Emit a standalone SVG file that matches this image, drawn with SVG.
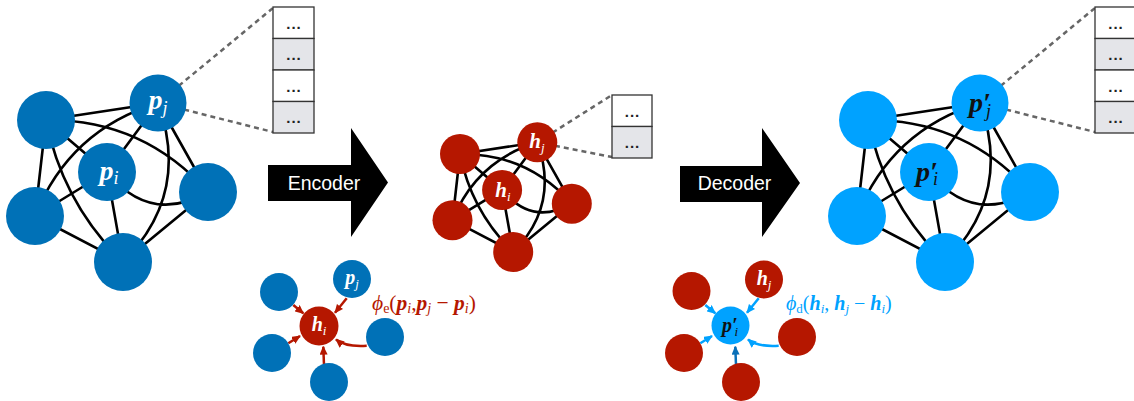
<svg xmlns="http://www.w3.org/2000/svg" width="1134" height="401" viewBox="0 0 1134 401">
<style>
.n1{fill:#0071B7}
.n2{fill:#B51700}
.n3{fill:#00A2FF}
.e{fill:none;stroke:#000;stroke-width:2.6}
.d{fill:none;stroke:#666;stroke-width:2.5;stroke-dasharray:5 4}
.box{stroke:#333;stroke-width:1.3}
.w{fill:#fff}
.g{fill:#E4E5E9}
.dots{font-family:"Liberation Sans",Arial,sans-serif;font-size:15px;font-weight:bold;letter-spacing:1px;fill:#222;text-anchor:middle}
.lbl{font-family:"Liberation Serif","DejaVu Serif",serif;font-weight:bold;font-style:italic;text-anchor:middle}
.sub{font-weight:normal;font-style:italic}
.atx{font-family:"Liberation Sans",Arial,sans-serif;font-size:19.5px;fill:#fff;text-anchor:middle}
.fx{font-family:"Liberation Serif","DejaVu Serif",serif}
.ar{fill:none;stroke:#B51700;stroke-width:2.5}
.ab{fill:none;stroke:#00A2FF;stroke-width:2.5}
.ad{fill:none;stroke:#0A70B8;stroke-width:2.5}
</style>
<defs>
<marker id="mr" markerUnits="userSpaceOnUse" markerWidth="9" markerHeight="8" refX="8" refY="4" orient="auto"><path d="M0,0L9,4L0,8z" fill="#B51700"/></marker>
<marker id="mb" markerUnits="userSpaceOnUse" markerWidth="9" markerHeight="8" refX="8" refY="4" orient="auto"><path d="M0,0L9,4L0,8z" fill="#00A2FF"/></marker>
<marker id="md" markerUnits="userSpaceOnUse" markerWidth="9" markerHeight="8" refX="8" refY="4" orient="auto"><path d="M0,0L9,4L0,8z" fill="#0A70B8"/></marker>
</defs>

<g id="connectors">
  <g id="edges-left">
    <path class="e" d="M46,120L158,103M46,120L35,216M46,120L107,172M158,103L107,172M158,103L208,192M107,172L35,216M107,172L123,262M35,216L123,262M208,192L123,262"/>
    <path class="e" d="M46,120Q143,119 208,192M46,120Q62.5,203 123,262M158,103Q69.4,130 35,216M158,103Q191,194 123,262M107,172Q150,225 208,192"/>
    <path class="d" d="M158,103L273,8M158,103L273,132"/>
  </g>
  <g id="edges-mid">
    <path class="e" d="M460,154L537.3,142.3M460,154L452.5,220.2M460,154L502.1,189.9M537.3,142.3L502.1,189.9M537.3,142.3L571.8,203.7M502.1,189.9L452.5,220.2M502.1,189.9L513.2,252M452.5,220.2L513.2,252M571.8,203.7L513.2,252"/>
    <path class="e" d="M460,154Q527,153.3 571.8,203.7M460,154Q471.4,211.3 513.2,252M537.3,142.3Q476.2,160.9 452.5,220.2M537.3,142.3Q560.1,205.1 513.2,252M502.1,189.9Q531.8,226.5 571.8,203.7"/>
    <path class="d" d="M537.3,142.3L612,95M537.3,142.3L612,157"/>
  </g>
  <g id="edges-right" transform="translate(822,0)">
    <path class="e" d="M46,120L158,103M46,120L35,216M46,120L107,172M158,103L107,172M158,103L208,192M107,172L35,216M107,172L123,262M35,216L123,262M208,192L123,262"/>
    <path class="e" d="M46,120Q143,119 208,192M46,120Q62.5,203 123,262M158,103Q69.4,130 35,216M158,103Q191,194 123,262M107,172Q150,225 208,192"/>
    <path class="d" d="M158,103L273,8M158,103L273,132"/>
  </g>
  <g id="arrows-enc">
    <path class="ar" marker-end="url(#mr)" d="M293.3,305L303.3,313.3"/>
    <path class="ar" marker-end="url(#mr)" d="M346.7,298.3L335,312.7"/>
    <path class="ar" marker-end="url(#mr)" d="M288.3,343.3L300,336"/>
    <path class="ar" marker-end="url(#mr)" d="M324,365L323.3,346.7"/>
    <path class="ar" marker-end="url(#mr)" d="M366.7,345.7Q345,347 336,339.5"/>
  </g>
  <g id="arrows-dec">
    <path class="ab" marker-end="url(#mb)" d="M705.3,305L715.3,313.3"/>
    <path class="ab" marker-end="url(#mb)" d="M758.7,298.3L747,312.7"/>
    <path class="ab" marker-end="url(#mb)" d="M700.3,343.3L712,336"/>
    <path class="ad" marker-end="url(#md)" d="M736,365L735.3,346.7"/>
    <path class="ab" marker-end="url(#mb)" d="M778.7,345.7Q757,347 748,339.5"/>
  </g>
</g>

<!-- left graph nodes -->
<g id="L-tl"><circle class="n1" cx="46" cy="120" r="29"/></g>
<g id="L-pj"><circle class="n1" cx="158" cy="103" r="28.5"/><text class="lbl" x="158" y="109" font-size="28" fill="#fff">p<tspan class="sub" font-size="18" dy="5">j</tspan></text></g>
<g id="L-pi"><circle class="n1" cx="107" cy="172" r="29"/><text class="lbl" x="109" y="180" font-size="28" fill="#fff">p<tspan class="sub" font-size="18" dy="4">i</tspan></text></g>
<g id="L-r"><circle class="n1" cx="208" cy="192" r="29"/></g>
<g id="L-lb"><circle class="n1" cx="35" cy="216" r="29"/></g>
<g id="L-b"><circle class="n1" cx="123" cy="262" r="29"/></g>

<!-- left memory box -->
<g id="L-box">
  <rect class="box w" x="273" y="7" width="41" height="31.5"/>
  <rect class="box g" x="273" y="38.5" width="41" height="31.5"/>
  <rect class="box w" x="273" y="70" width="41" height="31.5"/>
  <rect class="box g" x="273" y="101.5" width="41" height="31.5"/>
  <text class="dots" x="294" y="28.5">...</text>
  <text class="dots" x="294" y="60">...</text>
  <text class="dots" x="294" y="91.5">...</text>
  <text class="dots" x="294" y="123">...</text>
</g>

<!-- encoder arrow -->
<g id="encoder">
  <polygon points="268,165 351,165 351,128 388,182.5 351,237 351,201 268,201" fill="#000"/>
  <text class="atx" x="324" y="189.5">Encoder</text>
</g>

<!-- middle graph nodes -->
<g id="M-tl"><circle class="n2" cx="460" cy="154" r="20"/></g>
<g id="M-hj"><circle class="n2" cx="537.3" cy="142.3" r="20"/><text class="lbl" x="537" y="148" font-size="21" fill="#fff">h<tspan class="sub" font-size="13" dy="4">j</tspan></text></g>
<g id="M-hi"><circle class="n2" cx="502.1" cy="189.9" r="20"/><text class="lbl" x="503" y="197" font-size="21" fill="#fff">h<tspan class="sub" font-size="13" dy="4">i</tspan></text></g>
<g id="M-r"><circle class="n2" cx="571.8" cy="203.7" r="20"/></g>
<g id="M-lb"><circle class="n2" cx="452.5" cy="220.2" r="20"/></g>
<g id="M-b"><circle class="n2" cx="513.2" cy="252" r="20"/></g>

<g id="M-box">
  <rect class="box w" x="612" y="95" width="40" height="31.5"/>
  <rect class="box g" x="612" y="126.5" width="40" height="31.5"/>
  <text class="dots" x="632.5" y="116.5">...</text>
  <text class="dots" x="632.5" y="148">...</text>
</g>

<!-- decoder arrow -->
<g id="decoder">
  <polygon points="680,166 762,166 762,128 800,183 762,237 762,202 680,202" fill="#000"/>
  <text class="atx" x="734.5" y="189.5">Decoder</text>
</g>

<!-- right graph nodes -->
<g id="R-tl"><circle class="n3" cx="868" cy="120" r="29"/></g>
<g id="R-pj"><circle class="n3" cx="980" cy="103" r="28.5"/><text class="lbl" x="980" y="112" font-size="28" fill="#111">p′<tspan class="sub" font-size="18" dx="-5" dy="5">j</tspan></text></g>
<g id="R-pi"><circle class="n3" cx="929" cy="172" r="29"/><text class="lbl" x="927" y="181" font-size="28" fill="#111">p′<tspan class="sub" font-size="18" dx="-5" dy="4">i</tspan></text></g>
<g id="R-r"><circle class="n3" cx="1030" cy="192" r="29"/></g>
<g id="R-lb"><circle class="n3" cx="857" cy="216" r="29"/></g>
<g id="R-b"><circle class="n3" cx="945" cy="262" r="29"/></g>

<g id="R-box">
  <rect class="box w" x="1095" y="7" width="41" height="31.5"/>
  <rect class="box g" x="1095" y="38.5" width="41" height="31.5"/>
  <rect class="box w" x="1095" y="70" width="41" height="31.5"/>
  <rect class="box g" x="1095" y="101.5" width="41" height="31.5"/>
  <text class="dots" x="1116" y="28.5">...</text>
  <text class="dots" x="1116" y="60">...</text>
  <text class="dots" x="1116" y="91.5">...</text>
  <text class="dots" x="1116" y="123">...</text>
</g>

<!-- encoder detail -->
<g id="E-tl"><circle class="n1" cx="279" cy="292" r="19"/></g>
<g id="E-pj"><circle class="n1" cx="352" cy="279" r="19"/><text class="lbl" x="352" y="284" font-size="20" fill="#fff">p<tspan class="sub" font-size="13" dy="4">j</tspan></text></g>
<g id="E-hi"><circle class="n2" cx="319" cy="326" r="19.5"/><text class="lbl" x="319" y="331" font-size="20" fill="#fff">h<tspan class="sub" font-size="13" dy="4">i</tspan></text></g>
<g id="E-r"><circle class="n1" cx="385" cy="337" r="19"/></g>
<g id="E-lb"><circle class="n1" cx="272" cy="353" r="19"/></g>
<g id="E-b"><circle class="n1" cx="329" cy="382" r="19"/></g>
<text class="fx" x="372" y="310" font-size="21.5" fill="#B51700"><tspan font-style="italic">ϕ</tspan><tspan font-size="14" dy="3">e</tspan><tspan dy="-3">(</tspan><tspan font-weight="bold" font-style="italic">p</tspan><tspan font-style="italic" font-size="14" dy="3">i</tspan><tspan dy="-3">,</tspan><tspan font-weight="bold" font-style="italic">p</tspan><tspan font-style="italic" font-size="14" dy="3">j</tspan><tspan dy="-3"> − </tspan><tspan font-weight="bold" font-style="italic">p</tspan><tspan font-style="italic" font-size="14" dy="3">i</tspan><tspan dy="-3">)</tspan></text>

<!-- decoder detail -->
<g id="D-tl"><circle class="n2" cx="691.5" cy="291" r="19"/></g>
<g id="D-hj"><circle class="n2" cx="764" cy="279.5" r="19"/><text class="lbl" x="764" y="285" font-size="20" fill="#fff">h<tspan class="sub" font-size="13" dy="4">j</tspan></text></g>
<g id="D-pi"><circle class="n3" cx="730.5" cy="325.5" r="19"/><text class="lbl" x="730" y="332" font-size="20" fill="#111">p′<tspan class="sub" font-size="13" dx="-3" dy="4">i</tspan></text></g>
<g id="D-r"><circle class="n2" cx="797" cy="337" r="19"/></g>
<g id="D-lb"><circle class="n2" cx="684" cy="353" r="19"/></g>
<g id="D-b"><circle class="n2" cx="741" cy="382" r="19"/></g>
<text class="fx" x="786" y="310" font-size="20" fill="#00A2FF"><tspan font-style="italic">ϕ</tspan><tspan font-size="13" dy="3">d</tspan><tspan dy="-3">(</tspan><tspan font-weight="bold" font-style="italic">h</tspan><tspan font-style="italic" font-size="13" dy="3">i</tspan><tspan dy="-3">, </tspan><tspan font-weight="bold" font-style="italic">h</tspan><tspan font-style="italic" font-size="13" dy="3">j</tspan><tspan dy="-3"> − </tspan><tspan font-weight="bold" font-style="italic">h</tspan><tspan font-style="italic" font-size="13" dy="3">i</tspan><tspan dy="-3">)</tspan></text>
</svg>
